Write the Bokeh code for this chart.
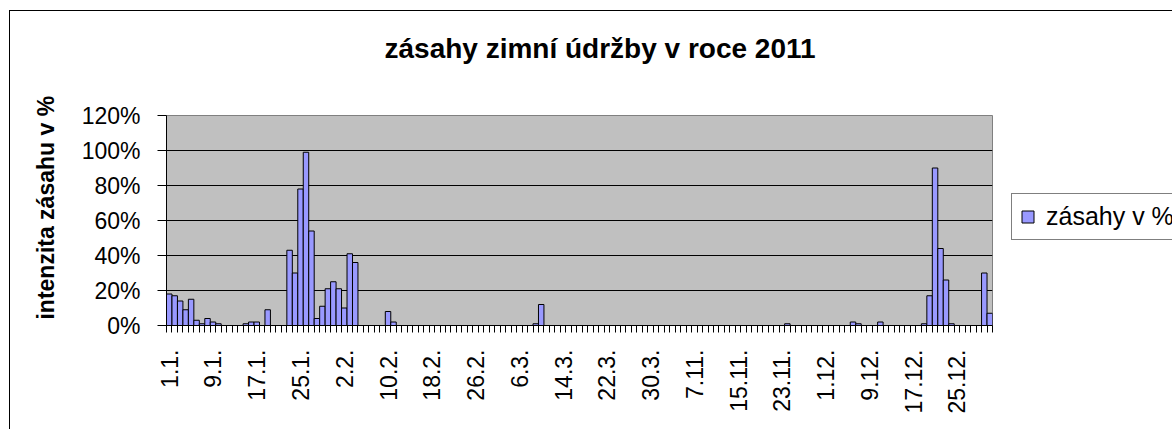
import math
import numpy as np
from bokeh.plotting import figure
from bokeh.models import (Range1d, FixedTicker, PrintfTickFormatter, Legend, LegendItem,
                          ColumnDataSource, Title)
from bokeh.embed import file_html
from bokeh.resources import INLINE

# ---- data ----
months = [(1, 31), (2, 28), (3, 31), (11, 30), (12, 31)]
categories = [f"{d}.{m}." for m, n in months for d in range(1, n + 1)]

jan = [18, 17, 14, 9, 15, 3, 1, 4, 2, 1, 0, 0, 0, 0, 1, 2, 2, 0, 9, 0, 0, 0,
       43, 30, 78, 99, 54, 4, 11, 21, 25]
feb = [21, 10, 41, 36, 0, 0, 0, 0, 0, 8, 2, 0, 0, 0, 0, 0, 0, 0, 0, 0, 0, 0,
       0, 0, 0, 0, 0, 0]
mar = [0, 0, 0, 0, 0, 0, 0, 0, 1, 12, 0, 0, 0, 0, 0, 0, 0, 0, 0, 0, 0, 0,
       0, 0, 0, 0, 0, 0, 0, 0, 0]
nov = [0, 0, 0, 0, 0, 0, 0, 0, 0, 0, 0, 0, 0, 0, 0, 0, 0, 0, 0, 0, 0, 0,
       0, 1, 0, 0, 0, 0, 0, 0]
dec = [0, 0, 0, 0, 0, 2, 1, 0, 0, 0, 2, 0, 0, 0, 0, 0, 0, 0, 1, 17, 90, 44,
       26, 1, 0, 0, 0, 0, 0, 30, 7]
values = jan + feb + mar + nov + dec

y_ticks = [0, 20, 40, 60, 80, 100, 120]
label_every = 8

FONT = "Liberation Sans"

n = len(categories)
src = ColumnDataSource(dict(x=np.arange(n) + 0.5, top=values, cat=categories))

p = figure(frame_width=826, frame_height=210, width=1161, height=418,
           min_border_left=156, min_border_right=179, min_border_top=104,
           min_border_bottom=104,
           x_range=Range1d(0, n), y_range=Range1d(0, 120),
           output_backend="svg", toolbar_location=None,
           background_fill_color="#C0C0C0", border_fill_color="white",
           outline_line_color="#808080", title=None)
p.styles = {"margin-left": "9px", "margin-top": "10px",
            "border-left": "1px solid black", "border-top": "1px solid black"}

r = p.vbar(x="x", top="top", width=1.0, source=src, fill_color="#9999FF",
           line_color="black", line_width=1)

# spacer between title and frame, then the title (outermost)
p.add_layout(Title(text=" ", text_font=FONT, text_font_size="10px", standoff=34), "above")
p.title = Title(text="zásahy zimní údržby v roce 2011", align="left", offset=218,
                text_font=FONT, text_font_size="28px", text_font_style="bold",
                text_color="black", standoff=10)

# x axis
xa = p.xaxis[0]
major = [i + 0.5 for i in range(0, n, label_every)]
xa.ticker = FixedTicker(ticks=major, minor_ticks=list(range(0, n + 1)))
xa.major_label_overrides = {i + 0.5: categories[i] for i in range(0, n, label_every)}
xa.major_label_orientation = math.pi / 2
xa.major_tick_out = 0
xa.major_tick_in = 0
xa.minor_tick_out = 7
xa.minor_tick_in = 0
xa.minor_tick_line_color = "black"
xa.axis_line_color = "black"
xa.major_label_standoff = 17
xa.major_label_text_font = FONT
xa.major_label_text_font_size = "23px"
xa.major_label_text_color = "black"
p.xgrid.grid_line_color = None

# y axis
ya = p.yaxis[0]
ya.ticker = FixedTicker(ticks=y_ticks)
ya.formatter = PrintfTickFormatter(format="%d%%")
ya.major_tick_out = 9
ya.major_tick_in = 0
ya.minor_tick_line_color = None
ya.axis_line_color = "black"
ya.major_label_standoff = 17
ya.major_label_text_font = FONT
ya.major_label_text_font_size = "23px"
ya.major_label_text_color = "black"
ya.axis_label = "\u00a0\u00a0\u00a0\u00a0intenzita zásahu v %"
ya.axis_label_text_font = FONT
ya.axis_label_text_font_size = "23px"
ya.axis_label_text_font_style = "bold"
ya.axis_label_text_color = "black"
ya.axis_label_standoff = 20
p.ygrid.ticker = FixedTicker(ticks=y_ticks)
p.ygrid.grid_line_color = "black"
p.ygrid.grid_line_width = 1

# legend (right panel, partly beyond the window edge as in the reference)
legend = Legend(items=[LegendItem(label="zásahy v %", renderers=[r])],
                location=(19, 85), orientation="vertical",
                border_line_color="black", border_line_width=1,
                background_fill_color="white", background_fill_alpha=1.0,
                label_text_font=FONT, label_text_font_size="25px",
                label_text_color="black", glyph_width=15, glyph_height=15,
                label_standoff=11, padding=8, margin=0, spacing=0)
p.add_layout(legend, "right")

open("out.html", "w").write(file_html(p, INLINE))
